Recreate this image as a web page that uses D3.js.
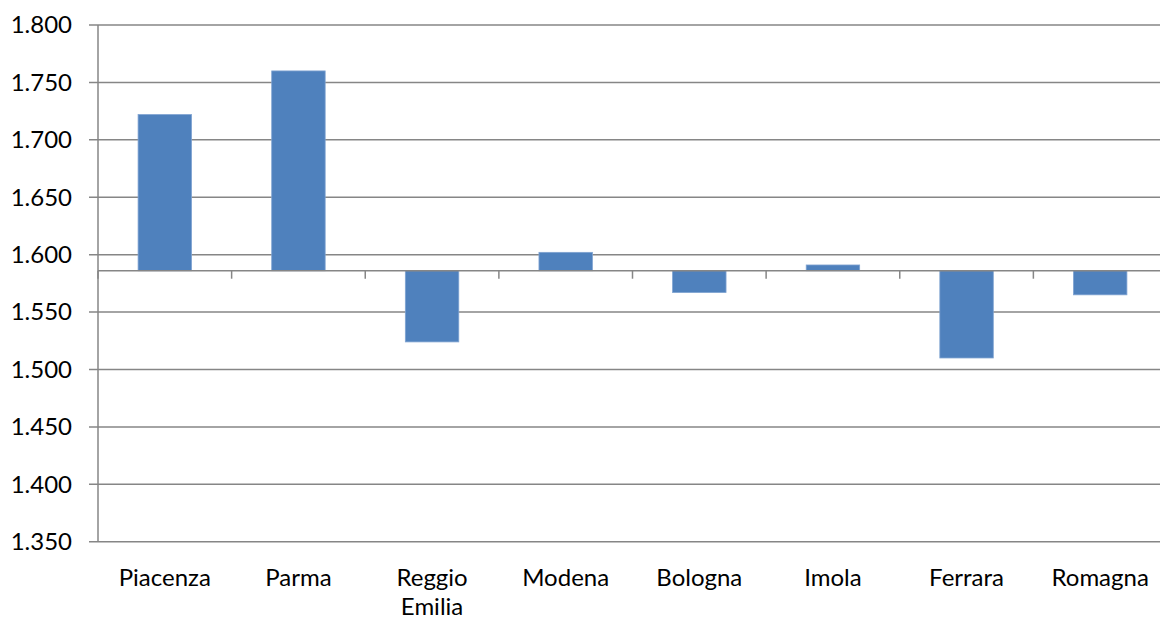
<!DOCTYPE html>
<html><head><meta charset="utf-8">
<script src="https://cdn.jsdelivr.net/npm/d3@7"></script>
<style>body{margin:0;background:#fff;} text{font-family:Lato, "Open Sans", sans-serif;fill:#000;font-weight:400;}</style>
</head><body><svg id="c" width="1160" height="619"></svg>
<script>
const categories = ["Piacenza","Parma","Reggio Emilia","Modena","Bologna","Imola","Ferrara","Romagna"];
const values = [1.722, 1.760, 1.524, 1.602, 1.567, 1.591, 1.510, 1.565];
const baseline = 1.586;
const yTicks = [1.350,1.400,1.450,1.500,1.550,1.600,1.650,1.700,1.750,1.800];

const svg = d3.select("#c");
const L = 98, R = 1167, T = 25, B = 541.7;
const x = d3.scaleBand().domain(categories).range([L,R]).paddingInner(0.6).paddingOuter(0.3);
const xb = d3.scaleBand().domain(categories).range([L,R]);
const y = d3.scaleLinear().domain([1.35,1.8]).range([B,T]);
const fmt = d3.format(".3f");
const grid = "#868686";

// gridlines
svg.append("g").selectAll("line").data(yTicks).join("line")
  .attr("x1", L-9).attr("x2", 1160).attr("y1", d=>y(d)).attr("y2", d=>y(d))
  .attr("stroke", grid).attr("stroke-width", 1.5);
// y axis line
svg.append("line").attr("x1",L).attr("x2",L).attr("y1",T).attr("y2",B).attr("stroke",grid).attr("stroke-width",1.5);
// y labels
svg.append("g").selectAll("text").data(yTicks).join("text")
  .attr("x", 72).attr("y", d=>y(d)).attr("dy","0.35em").attr("text-anchor","end")
  .style("font-size","24px").text(d=>fmt(d));

// bars
svg.append("g").selectAll("rect").data(values).join("rect")
  .attr("x",(d,i)=>x(categories[i])).attr("width",x.bandwidth())
  .attr("y", d=>Math.min(y(d),y(baseline))).attr("height", d=>Math.abs(y(d)-y(baseline)))
  .attr("fill","#4F81BD").attr("stroke","#7fa3d1").attr("stroke-width",0.8);

// category axis at baseline
const yb = y(baseline);
svg.append("line").attr("x1",L).attr("x2",1160).attr("y1",yb).attr("y2",yb).attr("stroke",grid).attr("stroke-width",1.5);
const bounds = categories.map(c=>xb(c)).concat([R]);
svg.append("g").selectAll("line").data(bounds).join("line")
  .attr("x1",d=>d).attr("x2",d=>d).attr("y1",yb).attr("y2",yb+8).attr("stroke",grid).attr("stroke-width",1.5);

// category labels
const lab = svg.append("g").selectAll("text").data(categories).join("text")
  .attr("x", d=>xb(d)+xb.bandwidth()/2).attr("y", 586).attr("text-anchor","middle")
  .style("font-size","24px");
lab.each(function(d){
  const parts = d==="Reggio Emilia" ? ["Reggio","Emilia"] : [d];
  const t = d3.select(this);
  parts.forEach((p,i)=>t.append("tspan").attr("x", xb(d)+xb.bandwidth()/2).attr("dy", i?29:0).text(p));
});
</script></body></html>
